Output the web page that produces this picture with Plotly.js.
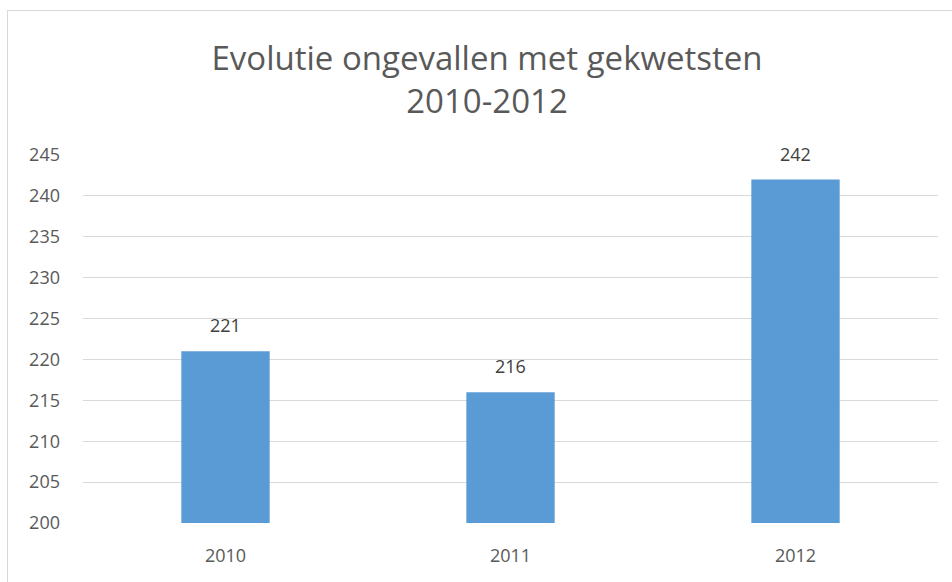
<!DOCTYPE html>
<html>
<head>
<meta charset="utf-8">
<script src="https://cdn.plot.ly/plotly-3.0.1.min.js"></script>
<style>
  body { margin: 0; padding: 0; background: #fff; }
  #grafic { position: absolute; left: 0; top: 0; width: 952px; height: 582px; }
  #vora { position: absolute; left: 7px; top: 10px; width: 980px; height: 620px;
          border: 1px solid #d9d9d9; pointer-events: none; }
</style>
</head>
<body>
<div id="grafic"></div>
<div id="vora"></div>
<script>
// dades del grafic
var anys = ['2010', '2011', '2012'];
var ongevallen = [221, 216, 242];
var ticksY = [200, 205, 210, 215, 220, 225, 230, 235, 240, 245];

var colorText = '#595959';
var lletra = 'Open Sans, sans-serif';

var dades = [{
    type: 'bar',
    x: anys,
    y: ongevallen.map(function (v) { return v - 200; }), // les barres comencen a 200
    base: 200,
    marker: { color: '#5b9bd5' },
    hoverinfo: 'none'
}];

// etiquetes de valor damunt de cada barra (x = index de categoria)
var etiquetes = ongevallen.map(function (v, k) {
    return {
        x: k, y: v,
        xref: 'x', yref: 'y',
        text: String(v),
        showarrow: false,
        yanchor: 'bottom',
        yshift: 12,
        font: { family: lletra, size: 18, color: '#404040' }
    };
});

var layout = {
    width: 952,
    height: 582,
    margin: { l: 83, r: 14, t: 155, b: 59 },
    paper_bgcolor: '#ffffff',
    plot_bgcolor: '#ffffff',
    showlegend: false,
    bargap: 0.69,
    annotations: etiquetes,
    title: {
        text: 'Evolutie ongevallen met gekwetsten<br>2010-2012',
        font: { family: lletra, size: 33, color: colorText },
        x: 0.5116, xanchor: 'center',
        y: 0.88, yanchor: 'middle'
    },
    xaxis: {
        type: 'category',
        showgrid: false,
        showline: false,
        zeroline: false,
        ticks: '',
        tickfont: { family: lletra, size: 18, color: colorText },
        ticklabelstandoff: 20
    },
    yaxis: {
        range: [200, 245],
        tickvals: ticksY,
        ticktext: ticksY.map(String),
        showgrid: true,
        gridcolor: '#d9d9d9',
        gridwidth: 1,
        zeroline: false,
        showline: false,
        ticks: '',
        tickfont: { family: lletra, size: 18, color: colorText },
        ticklabelstandoff: 22
    }
};

Plotly.newPlot('grafic', dades, layout, { displayModeBar: false, staticPlot: true });
</script>
</body>
</html>
